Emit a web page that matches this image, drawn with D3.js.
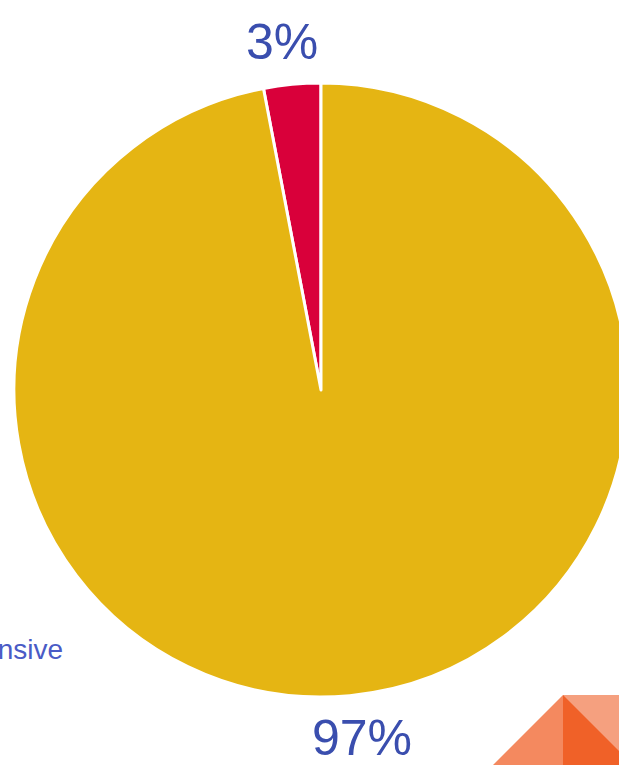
<!DOCTYPE html>
<html>
<head>
<meta charset="utf-8">
<script src="https://cdn.jsdelivr.net/npm/d3@7"></script>
<style>
  html, body { margin: 0; padding: 0; background: #fff; overflow: hidden; }
  svg { display: block; }
</style>
</head>
<body>
<svg id="chart" width="619" height="765"></svg>
<script>
// Share of responses by price perception
const categories = ["Expensive", "Inexpensive"];
const values = [3, 97];
const sliceColors = ["#d9003a", "#e5b513"];
const legendLabels = ["Inexpensive"];

const width = 619, height = 765;
const cx = 321, cy = 390, radius = 307;

const svg = d3.select("#chart");

const data = categories.map((c, i) => ({ category: c, value: values[i], color: sliceColors[i] }));

// Small slice first, drawn counter-clockwise from 12 o'clock
const pie = d3.pie()
  .value(d => d.value)
  .sort(null)
  .startAngle(0)
  .endAngle(-2 * Math.PI);

const arc = d3.arc().innerRadius(0).outerRadius(radius);
const labelArc = d3.arc().innerRadius(350).outerRadius(350);

const g = svg.append("g").attr("transform", `translate(${cx},${cy})`);
const arcs = pie(data);

g.selectAll("path.slice")
  .data(arcs)
  .join("path")
  .attr("class", "slice")
  .attr("d", arc)
  .attr("fill", d => d.data.color)
  .attr("stroke", "#ffffff")
  .attr("stroke-width", 3)
  .attr("stroke-linejoin", "round");

const total = d3.sum(values);
const fmt = d3.format(".0%");

// Outside labels, nudged away from the 12 o'clock seam
g.selectAll("text.pct")
  .data(arcs)
  .join("text")
  .attr("class", "pct")
  .attr("transform", d => {
    const [x, y] = labelArc.centroid(d);
    return `translate(${x},${y})`;
  })
  .attr("dx", d => d.data.value / total < 0.5 ? -6 : 8)
  .attr("text-anchor", "middle")
  .attr("dy", "0.34em")
  .attr("font-family", "Liberation Sans, Arial, sans-serif")
  .attr("font-size", 50)
  .attr("fill", "#3a4eae")
  .text(d => fmt(d.data.value / total));

// Legend entry (partially off the left edge)
svg.selectAll("text.legend")
  .data(legendLabels)
  .join("text")
  .attr("class", "legend")
  .attr("x", 63)
  .attr("y", 659)
  .attr("text-anchor", "end")
  .attr("font-family", "Liberation Sans, Arial, sans-serif")
  .attr("font-size", 28)
  .attr("fill", "#4a5bc6")
  .text(d => d);

// Corner decoration
const deco = svg.append("g");
deco.append("path").attr("d", "M563,695 L493,765 L563,765 Z").attr("fill", "#f4895f");
deco.append("path").attr("d", "M563,695 L619,695 L619,765 L563,765 Z").attr("fill", "#f06128");
deco.append("path").attr("d", "M563,695 L619,695 L619,751 Z").attr("fill", "#f5a07f");
</script>
</body>
</html>
